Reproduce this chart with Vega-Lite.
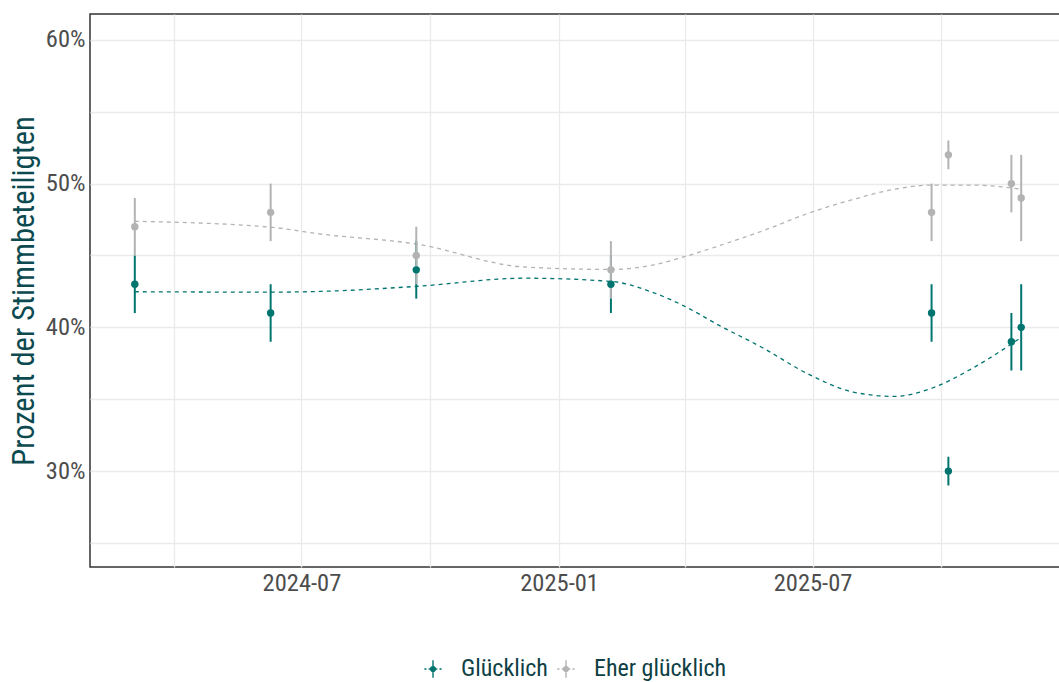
{
  "$schema": "https://vega.github.io/schema/vega-lite/v6.json",
  "autosize": "none",
  "width": 976,
  "height": 553,
  "padding": {"left": 90, "top": 14, "right": 0, "bottom": 115},
  "background": "white",
  "config": {
    "font": "Roboto Condensed, Roboto",
    "view": {"stroke": "#333333", "strokeWidth": 1.5},
    "axis": {"gridColor": "#EBEBEB", "gridWidth": 1.3, "domain": false, "ticks": false, "labelColor": "#4D4D4D", "labelFontSize": 24.5, "labelFont": "Roboto Condensed, Roboto"}
  },
  "datasets": {
    "pts": [
      {"date": "2024-03-04", "serie": "Glücklich", "value": 43, "lo": 41, "hi": 45},
      {"date": "2024-06-09", "serie": "Glücklich", "value": 41, "lo": 39, "hi": 43},
      {"date": "2024-09-21", "serie": "Glücklich", "value": 44, "lo": 42, "hi": 46},
      {"date": "2025-02-07", "serie": "Glücklich", "value": 43, "lo": 41, "hi": 45},
      {"date": "2025-09-24", "serie": "Glücklich", "value": 41, "lo": 39, "hi": 43},
      {"date": "2025-10-06", "serie": "Glücklich", "value": 30, "lo": 29, "hi": 31},
      {"date": "2025-11-20", "serie": "Glücklich", "value": 39, "lo": 37, "hi": 41},
      {"date": "2025-11-27", "serie": "Glücklich", "value": 40, "lo": 37, "hi": 43},
      {"date": "2024-03-04", "serie": "Eher glücklich", "value": 47, "lo": 45, "hi": 49},
      {"date": "2024-06-09", "serie": "Eher glücklich", "value": 48, "lo": 46, "hi": 50},
      {"date": "2024-09-21", "serie": "Eher glücklich", "value": 45, "lo": 43, "hi": 47},
      {"date": "2025-02-07", "serie": "Eher glücklich", "value": 44, "lo": 42, "hi": 46},
      {"date": "2025-09-24", "serie": "Eher glücklich", "value": 48, "lo": 46, "hi": 50},
      {"date": "2025-10-06", "serie": "Eher glücklich", "value": 52, "lo": 51, "hi": 53},
      {"date": "2025-11-20", "serie": "Eher glücklich", "value": 50, "lo": 48, "hi": 52},
      {"date": "2025-11-27", "serie": "Eher glücklich", "value": 49, "lo": 46, "hi": 52}
    ],
    "smooth": [
      {"date": "2024-03-04", "serie": "Glücklich", "value": 42.48},
      {"date": "2024-06-09", "serie": "Glücklich", "value": 42.45},
      {"date": "2024-07-14", "serie": "Glücklich", "value": 42.5},
      {"date": "2024-09-21", "serie": "Glücklich", "value": 42.85},
      {"date": "2024-12-07", "serie": "Glücklich", "value": 43.42},
      {"date": "2025-02-07", "serie": "Glücklich", "value": 43.2},
      {"date": "2025-03-07", "serie": "Glücklich", "value": 42.5},
      {"date": "2025-03-31", "serie": "Glücklich", "value": 41.5},
      {"date": "2025-04-26", "serie": "Glücklich", "value": 40.1},
      {"date": "2025-05-26", "serie": "Glücklich", "value": 38.6},
      {"date": "2025-06-27", "serie": "Glücklich", "value": 36.8},
      {"date": "2025-07-30", "serie": "Glücklich", "value": 35.5},
      {"date": "2025-08-28", "serie": "Glücklich", "value": 35.2},
      {"date": "2025-09-25", "serie": "Glücklich", "value": 35.8},
      {"date": "2025-10-24", "serie": "Glücklich", "value": 37.2},
      {"date": "2025-11-27", "serie": "Glücklich", "value": 39.3},
      {"date": "2024-03-04", "serie": "Eher glücklich", "value": 47.38},
      {"date": "2024-06-09", "serie": "Eher glücklich", "value": 46.97},
      {"date": "2024-07-14", "serie": "Eher glücklich", "value": 46.5},
      {"date": "2024-09-21", "serie": "Eher glücklich", "value": 45.8},
      {"date": "2024-12-07", "serie": "Eher glücklich", "value": 44.2},
      {"date": "2025-02-07", "serie": "Eher glücklich", "value": 44.03},
      {"date": "2025-03-07", "serie": "Eher glücklich", "value": 44.3},
      {"date": "2025-03-31", "serie": "Eher glücklich", "value": 44.9},
      {"date": "2025-04-26", "serie": "Eher glücklich", "value": 45.7},
      {"date": "2025-05-26", "serie": "Eher glücklich", "value": 46.7},
      {"date": "2025-06-27", "serie": "Eher glücklich", "value": 47.9},
      {"date": "2025-07-30", "serie": "Eher glücklich", "value": 48.9},
      {"date": "2025-08-28", "serie": "Eher glücklich", "value": 49.6},
      {"date": "2025-09-25", "serie": "Eher glücklich", "value": 49.9},
      {"date": "2025-10-24", "serie": "Eher glücklich", "value": 49.9},
      {"date": "2025-11-27", "serie": "Eher glücklich", "value": 49.6}
    ]
  },
  "encoding": {
    "x": {
      "field": "date", "type": "temporal", "title": null,
      "scale": {"domain": [{"year": 2024, "month": 2, "date": 1}, {"year": 2025, "month": 12, "date": 29}]},
      "axis": {
        "values": [
          {"year": 2024, "month": 4, "date": 1}, {"year": 2024, "month": 7, "date": 1},
          {"year": 2024, "month": 10, "date": 1}, {"year": 2025, "month": 1, "date": 1},
          {"year": 2025, "month": 4, "date": 1}, {"year": 2025, "month": 7, "date": 1},
          {"year": 2025, "month": 10, "date": 1}
        ],
        "labelExpr": "(month(datum.value) == 0 || month(datum.value) == 6) ? timeFormat(datum.value, '%Y-%m') : ''",
        "labelPadding": 4,
        "labelFlush": false,
        "labelOverlap": false
      }
    },
    "y": {
      "type": "quantitative",
      "scale": {"domain": [23.33, 61.8], "nice": false, "zero": false},
      "axis": {
        "values": [25, 30, 35, 40, 45, 50, 55, 60],
        "labelExpr": "datum.value % 10 == 0 ? datum.value + '%' : ''",
        "title": "Prozent der Stimmbeteiligten",
        "titleFontSize": 30.5,
        "titleFontWeight": "normal",
        "titleColor": "#0D4A4F",
        "titleFont": "Roboto Condensed, Roboto",
        "labelPadding": 5,
        "titlePadding": 6
      }
    },
    "color": {
      "field": "serie", "type": "nominal",
      "scale": {"domain": ["Glücklich", "Eher glücklich"], "range": ["#00756F", "#B3B3B3"]},
      "legend": {
        "title": null, "orient": "none", "direction": "horizontal",
        "legendX": 331, "legendY": 643,
        "labelFontSize": 24, "labelColor": "#0E3F44", "labelFont": "Roboto Condensed, Roboto",
        "symbolType": "M0,-1L0,1M-1,0L-0.75,0M-0.5,0L-0.35,0M0.35,0L0.5,0M0.75,0L1,0M-0.28,0A0.28,0.28,0,1,1,0.28,0A0.28,0.28,0,1,1,-0.28,0Z",
        "symbolSize": 300, "symbolStrokeWidth": 1.4, "columnPadding": 6, "labelOffset": 16,
        "encode": {"symbols": {"update": {"stroke": {"scale": "color", "field": "value"}}}}
      }
    }
  },
  "layer": [
    {
      "data": {"name": "smooth"},
      "mark": {"type": "line", "strokeDash": [4, 4], "strokeWidth": 1.3, "interpolate": "monotone"},
      "encoding": {"y": {"field": "value"}, "detail": {"field": "serie"}}
    },
    {
      "data": {"name": "pts"},
      "mark": {"type": "rule", "strokeWidth": 2},
      "encoding": {"y": {"field": "lo"}, "y2": {"field": "hi"}}
    },
    {
      "data": {"name": "pts"},
      "mark": {"type": "point", "filled": true, "opacity": 1, "size": 55},
      "encoding": {"y": {"field": "value"}}
    }
  ]
}
